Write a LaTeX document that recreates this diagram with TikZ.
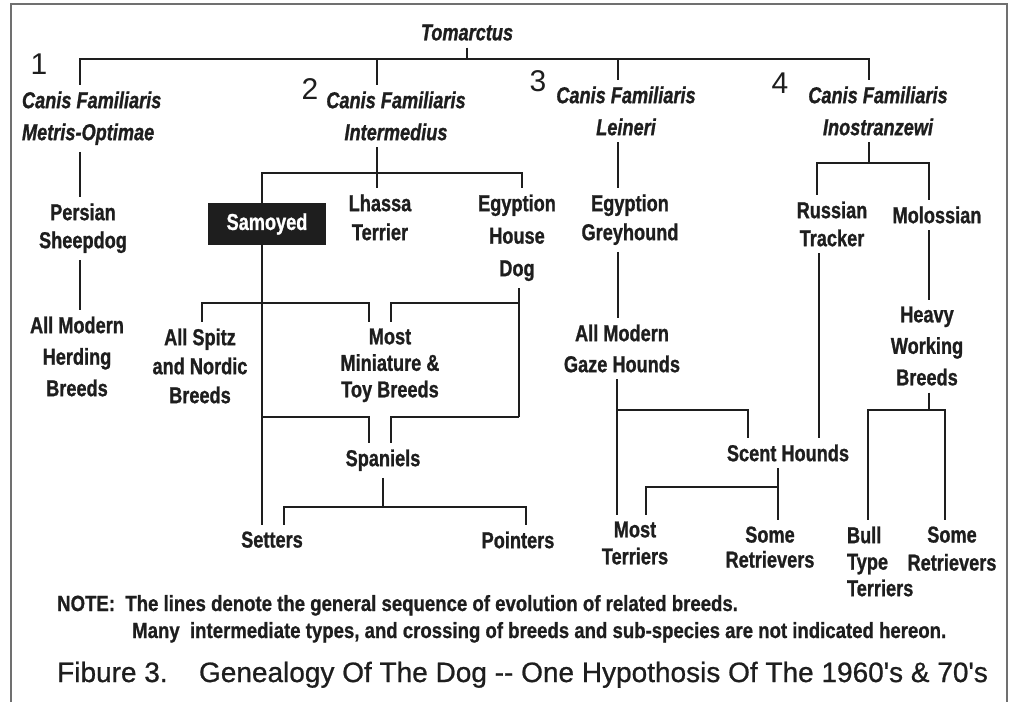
\documentclass[tikz,border=0pt]{standalone}
\usepackage{fontspec}
\setmainfont{Liberation Sans}
\newfontfamily\labfont{Liberation Sans}[FakeStretch=0.79,FakeBold=1]
\newfontfamily\notefont{Liberation Sans}[FakeStretch=0.845,FakeBold=0.8]
\newfontfamily\numfont{Liberation Sans}
\newfontfamily\figfont{Liberation Sans}[FakeBold=0.8]
\definecolor{ink}{HTML}{1E1E1E}
\definecolor{framegray}{HTML}{707070}
\begin{document}
\begin{tikzpicture}[x=1pt,y=-1pt,
  lab/.style={font={\labfont\fontsize{23}{#1}\selectfont\bfseries}, align=center,
    inner sep=0pt, outer xsep=0pt, outer ysep=7pt, text=ink, anchor=north},
  lab/.default=30,
  cf/.style={font={\labfont\fontsize{23}{#1}\selectfont\bfseries\itshape}, align=center,
    inner sep=0pt, outer xsep=0pt, outer ysep=7pt, text=ink, anchor=north},
  cf/.default=32,
  num/.style={font={\numfont\fontsize{30}{36}\selectfont}, inner sep=0pt, text=ink},
  box/.style={fill=ink, text=white, font={\labfont\fontsize{23}{30}\selectfont\bfseries},
    minimum width=118pt, minimum height=42pt, inner sep=0pt, outer sep=0pt},
  note/.style={font={\notefont\fontsize{22}{24}\selectfont\bfseries}, inner sep=0pt, text=ink, anchor=base west},
  fig/.style={font={\figfont\fontsize{28}{32}\selectfont}, inner sep=0pt, text=ink, anchor=base west},
  conn/.style={draw=ink, line width=2.9pt},
  framel/.style={draw=framegray, line width=1.4pt}]
\useasboundingbox (0,0) rectangle (1010,702);
\draw[framel] (11,702) -- (11,4) -- (1007,4) -- (1007,702);

% ---- labels ----
\node[cf=30] (tom) at (467,17.5) {Tomarctus};
\node[num] (n1) at (39,64) {1};
\node[num] (n2) at (310,89) {2};
\node[num] (n3) at (538,81) {3};
\node[num] (n4) at (780,83) {4};
\node[cf, align=left, anchor=north west] (cf1) at (22,84.5) {Canis Familiaris\\Metris-Optimae};
\node[cf] (cf2) at (396,84.5) {Canis Familiaris\\Intermedius};
\node[cf] (cf3) at (626,79.5) {Canis Familiaris\\Leineri};
\node[cf] (cf4) at (878,79.5) {Canis Familiaris\\Inostranzewi};

\node[lab=28] (persian) at (83,196.5) {Persian\\Sheepdog};
\node[lab=31.5] (herding) at (77,309.5) {All Modern\\Herding\\Breeds};

\node[box] (samoyed) at (267,224) {Samoyed};
\node[lab=29] (lhassa) at (380,187.5) {Lhassa\\Terrier};
\node[lab=32.5] (ehd) at (517,187.5) {Egyption\\House\\Dog};
\node[lab=29] (spitz) at (200,321.5) {All Spitz\\and Nordic\\Breeds};
\node[lab=26.5] (mini) at (390,321.5) {Most\\Miniature \&\\Toy Breeds};
\node[lab] (spaniels) at (383,442.5) {Spaniels};
\node[lab] (setters) at (272,524.5) {Setters};
\node[lab] (pointers) at (518,524.5) {Pointers};

\node[lab=29] (egh) at (630,187.5) {Egyption\\Greyhound};
\node[lab=31] (gaze) at (622,317.5) {All Modern\\Gaze Hounds};
\node[lab] (scent) at (788,437.5) {Scent Hounds};
\node[lab=27] (mterr) at (635,514.5) {Most\\Terriers};
\node[lab=25] (sretr1) at (770,519.5) {Some\\Retrievers};

\node[lab=28] (russian) at (832,194.5) {Russian\\Tracker};
\node[lab] (molossian) at (937,199.5) {Molossian};
\node[lab=31.5] (heavy) at (927,299.5) {Heavy\\Working\\Breeds};
\node[lab=26.5, align=left, anchor=north west] (bull) at (847,519.5) {Bull\\Type\\Terriers};
\node[lab=28] (sretr2) at (952,519.5) {Some\\Retrievers};

\node[note] (note1) at (57,611) {NOTE:\ \ The lines denote the general sequence of evolution of related breeds.};
\node[note] (note2) at (132,638) {Many\ \ intermediate types, and crossing of breeds and sub-species are not indicated hereon.};
\node[fig] (figcap) at (57,682) {Fibure 3.\hspace{0.75em} Genealogy Of The Dog -{}- One Hypothosis Of The 1960\textquotesingle s \& 70\textquotesingle s};

% ---- junction coordinates ----
\coordinate (X80) at (80,59);
\coordinate (X377) at (377,59);
\coordinate (X618) at (618,59);
\coordinate (X869) at (869,59);
\coordinate (B2L) at (262,173);
\coordinate (B2R) at (522,173);
\coordinate (S1) at (202,303);
\coordinate (S2) at (369,303);
\coordinate (M1) at (391,303);
\coordinate (M2) at (519,303);
\coordinate (L0) at (262,417);
\coordinate (L1) at (369,417);
\coordinate (L3) at (391,417);
\coordinate (L2) at (519,417);
\coordinate (P0) at (383,507);
\coordinate (P1) at (284,507);
\coordinate (P2) at (526,507);
\coordinate (G1) at (617,410);
\coordinate (G2) at (748,410);
\coordinate (H1) at (646,487);
\coordinate (H2) at (778,487);
\coordinate (R0) at (869,163);
\coordinate (R1) at (817,163);
\coordinate (R2) at (929,163);
\coordinate (T1) at (819,300);
\coordinate (W0) at (929,410);
\coordinate (W1) at (868,410);
\coordinate (W2) at (945,410);

% ---- connectors ----
\path[conn] (tom.south) -- (tom.south |- X80);
\path[conn] (cf1.north -| X80) -- (X80) -- (X869) -- (cf4.north -| X869);
\path[conn] (X377) -- (cf2.north -| X377);
\path[conn] (X618) -- (cf3.north -| X618);

% branch 1
\path[conn] (cf1.south -| X80) -- (persian.north -| X80);
\path[conn] (persian.south -| X80) -- (herding.north -| X80);

% branch 2
\path[conn] (cf2.south -| X377) -- (lhassa.north -| X377);
\path[conn] (samoyed.north -| B2L) -- (B2L) -- (B2R) -- (ehd.north -| B2R);
\path[conn] (samoyed.south -| B2L) -- (setters.north -| B2L);
\path[conn] (spitz.north -| S1) -- (S1) -- (S2) -- (mini.north -| S2);
\path[conn] (mini.north -| M1) -- (M1) -- (M2);
\path[conn] (ehd.south -| M2) -- (L2);
\path[conn] (L0) -- (L1) -- (spaniels.north -| L1);
\path[conn] (L2) -- (L3) -- (spaniels.north -| L3);
\path[conn] (spaniels.south) -- (P0);
\path[conn] (setters.north -| P1) -- (P1) -- (P2) -- (pointers.north -| P2);

% branch 3
\path[conn] (cf3.south -| X618) -- (egh.north -| X618);
\path[conn] (egh.south -| X618) -- (gaze.north -| X618);
\path[conn] (gaze.south -| G1) -- (mterr.north -| G1);
\path[conn] (G1) -- (G2) -- (scent.north -| G2);
\path[conn] (scent.south -| H2) -- (sretr1.north -| H2);
\path[conn] (mterr.north -| H1) -- (H1) -- (H2);

% branch 4
\path[conn] (cf4.south -| R0) -- (R0);
\path[conn] (russian.north -| R1) -- (R1) -- (R2) -- (molossian.north -| R2);
\path[conn] (molossian.south -| R2) -- (heavy.north -| R2);
\path[conn] (russian.south -| T1) -- (scent.north -| T1);
\path[conn] (heavy.south -| W0) -- (W0);
\path[conn] (bull.north -| W1) -- (W1) -- (W2) -- (sretr2.north -| W2);
\end{tikzpicture}
\end{document}
